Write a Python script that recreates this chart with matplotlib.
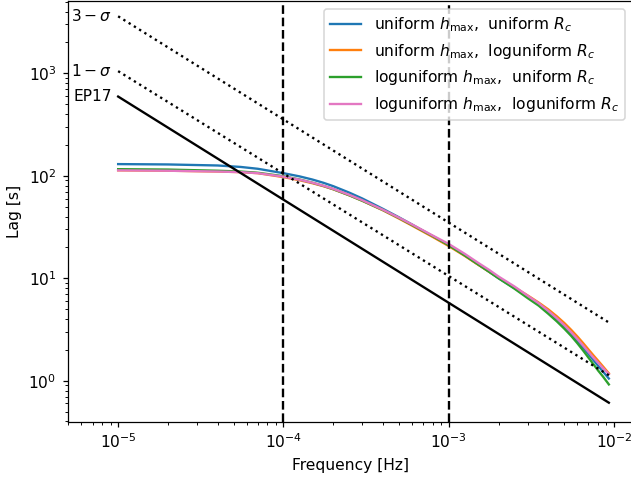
import numpy as np
import matplotlib
matplotlib.use("Agg")
import matplotlib.pyplot as plt

# frequencies at which the model lags were evaluated [Hz]
freq = [1e-5, 2e-5, 4e-5, 5.5e-5, 7e-5, 1e-4, 1.25e-4, 1.5e-4, 1.75e-4, 2e-4,
        2.5e-4, 3e-4, 4e-4, 5e-4, 6e-4, 8e-4, 1e-3, 1.25e-3, 1.5e-3, 1.75e-3,
        2e-3, 2.5e-3, 3e-3, 3.5e-3, 4e-3, 4.5e-3, 5e-3, 5.5e-3, 6e-3, 6.5e-3,
        7e-3, 7.5e-3, 8e-3, 8.6e-3, 9.3e-3]

# model lags [s] for the four prior choices
lag_uni_uni = [130, 129, 126, 122, 117, 106, 98.7, 91.8, 85.3, 79.2,
               68.5, 60, 47.5, 39.3, 33.4, 25.6, 21.0, 16.7, 13.7, 11.6,
               10.0, 8.0, 6.6, 5.6, 4.7, 3.98, 3.38, 2.88, 2.46, 2.11,
               1.82, 1.59, 1.4, 1.22, 1.05]
lag_uni_log = [113, 112, 110, 108.5, 106, 97, 90.5, 84.5, 79, 73.8,
               64.5, 57, 46, 38.2, 32.6, 25.3, 20.6, 16.5, 13.6, 11.6,
               10.1, 8.15, 6.8, 5.79, 4.97, 4.26, 3.66, 3.14, 2.70, 2.33,
               2.02, 1.77, 1.57, 1.37, 1.18]
lag_log_uni = [116, 115, 112, 110, 107, 99, 92, 85.5, 79.5, 74,
               64.5, 57, 46.3, 38.7, 33.1, 25.8, 21.0, 16.7, 13.7, 11.6,
               10.0, 7.9, 6.4, 5.4, 4.5, 3.8, 3.22, 2.74, 2.32, 1.97,
               1.68, 1.45, 1.26, 1.09, 0.92]
lag_log_log = [113, 112, 110, 108.5, 106, 98, 91.6, 85.5, 79.8, 74.5,
               65.2, 57.7, 46.6, 39.0, 33.5, 26.1, 21.6, 17.3, 14.2, 12.1,
               10.4, 8.3, 6.75, 5.7, 4.8, 4.08, 3.48, 2.97, 2.55, 2.2,
               1.91, 1.68, 1.5, 1.32, 1.16]

labels = [r"uniform $h_{\rm max}$,  uniform $R_c$",
          r"uniform $h_{\rm max}$,  loguniform $R_c$",
          r"loguniform $h_{\rm max}$,  uniform $R_c$",
          r"loguniform $h_{\rm max}$,  loguniform $R_c$"]
colors = ["C0", "C1", "C2", "C6"]

# power-law reference relations (end points)
ref_freq = [1e-5, 9.3e-3]
ep17 = [593, 0.61]
one_sigma = [1050, 1.13]
three_sigma = [3600, 3.7]

# frequency band limits
band = [1e-4, 1e-3]

dpi = 112
fig = plt.figure(figsize=(631 / dpi, 479 / dpi), dpi=dpi)
ax = fig.add_axes([0.107, 0.1196, 0.896, 0.878])

for lag, lab, c in zip([lag_uni_uni, lag_uni_log, lag_log_uni, lag_log_log], labels, colors):
    ax.plot(freq, lag, color=c, label=lab)

ax.plot(ref_freq, ep17, "k-")
ax.plot(ref_freq, one_sigma, "k:")
ax.plot(ref_freq, three_sigma, "k:")

for f in band:
    ax.axvline(f, color="k", ls="--")

ax.text(9.2e-6, ep17[0], "EP17", ha="right", va="center")
ax.text(9.2e-6, one_sigma[0], r"$1-\sigma$", ha="right", va="center")
ax.text(9.2e-6, three_sigma[0], r"$3-\sigma$", ha="right", va="center")

ax.set_xscale("log")
ax.set_yscale("log")
ax.set_xlim(4.94e-6, 1.3e-2)
ax.set_ylim(0.398, 5060)
ax.set_xlabel("Frequency [Hz]")
ax.set_ylabel("Lag [s]")
ax.legend(loc="upper right")

fig.savefig("out.png", dpi=dpi)
